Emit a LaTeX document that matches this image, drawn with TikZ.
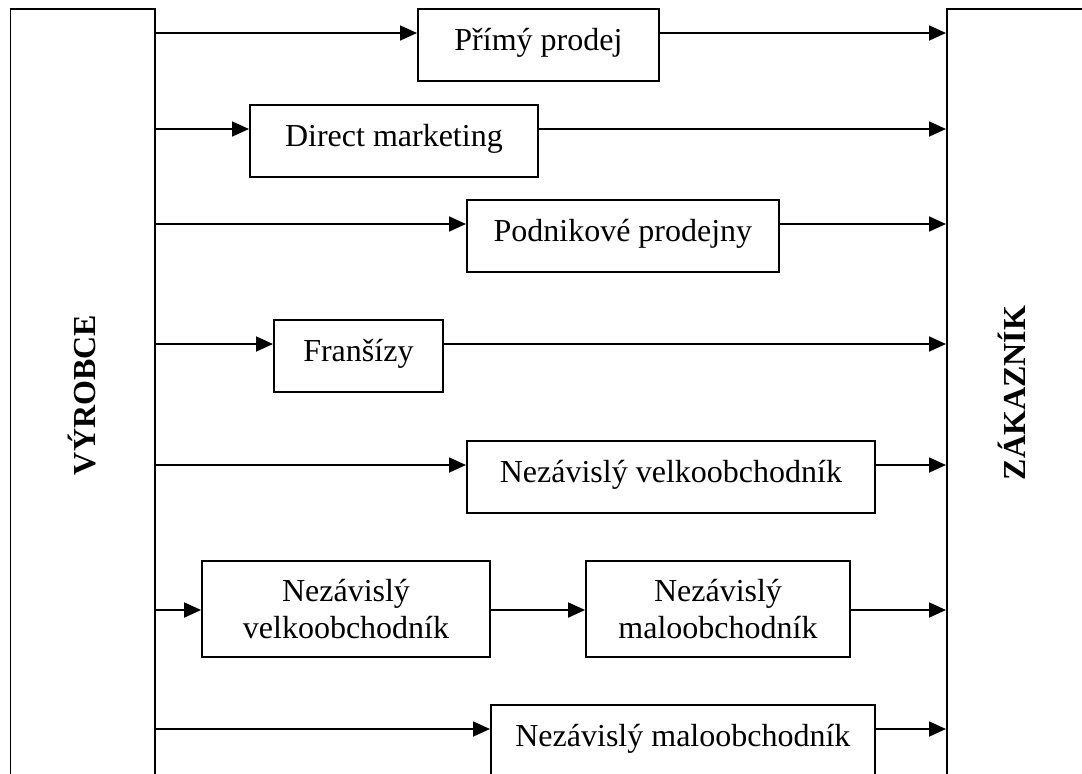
\documentclass[tikz,border=0pt]{standalone}
\usepackage{fontspec}
\setmainfont{Liberation Serif}
\usetikzlibrary{arrows.meta}

\begin{document}
\begin{tikzpicture}[x=1pt,y=-1pt,line width=1.8pt,>={Triangle[length=17pt,width=15pt]},
  chan/.style={draw,anchor=base west,inner xsep=0pt,inner ysep=0pt,
    text height=41pt,text depth=31pt,font=\fontsize{32}{37}\selectfont},
  chantwo/.style={draw,align=center,minimum height=96pt,inner sep=0pt,
    font=\fontsize{32}{37}\selectfont},
  side/.style={draw,anchor=north west,minimum height=800pt,inner sep=0pt},
  sidelbl/.style={rotate=90,font=\fontsize{32}{37}\selectfont\bfseries}]
  \useasboundingbox (0,0) rectangle (1082,774);
  \clip (0,0) rectangle (1082,774);
  % producer and customer
  \node[side,minimum width=144.5pt] (prod) at (9.5,8) {};
  \node[side,minimum width=200pt] (cust) at (946,8) {};
  \node[sidelbl] (prodlbl) at (82,395) {VÝROBCE};
  \node[sidelbl] (custlbl) at (1012,393) {ZÁKAZNÍK};
  % rows
  \coordinate (r1) at (0,33);
  \coordinate (r2) at (0,129);
  \coordinate (r3) at (0,224);
  \coordinate (r4) at (0,344);
  \coordinate (r5) at (0,465);
  \coordinate (r6) at (0,610);
  \coordinate (r7) at (0,729);
  % channels
  \node[chan,minimum width=241pt] (p1) at (417,50) {Přímý prodej};
  \node[chan,minimum width=288pt] (p2) at (249,146) {Direct marketing};
  \node[chan,minimum width=312pt] (p3) at (466,241) {Podnikové prodejny};
  \node[chan,minimum width=169pt] (p4) at (273,361) {Franšízy};
  \node[chan,minimum width=408pt] (p5) at (466,482) {Nezávislý velkoobchodník};
  \node[chantwo,minimum width=288pt] (p6) at (346,609) {Nezávislý\\velkoobchodník};
  \node[chantwo,minimum width=264pt] (p7) at (718,609) {Nezávislý\\maloobchodník};
  \node[chan,minimum width=384pt] (p8) at (490,746) {Nezávislý maloobchodník};
  % arrows
  \draw[->] (prod.east |- r1) -- (p1.west |- r1);
  \draw[->] (p1.east |- r1) -- (cust.west |- r1);
  \draw[->] (prod.east |- r2) -- (p2.west |- r2);
  \draw[->] (p2.east |- r2) -- (cust.west |- r2);
  \draw[->] (prod.east |- r3) -- (p3.west |- r3);
  \draw[->] (p3.east |- r3) -- (cust.west |- r3);
  \draw[->] (prod.east |- r4) -- (p4.west |- r4);
  \draw[->] (p4.east |- r4) -- (cust.west |- r4);
  \draw[->] (prod.east |- r5) -- (p5.west |- r5);
  \draw[->] (p5.east |- r5) -- (cust.west |- r5);
  \draw[->] (prod.east |- r6) -- (p6.west |- r6);
  \draw[->] (p6.east |- r6) -- (p7.west |- r6);
  \draw[->] (p7.east |- r6) -- (cust.west |- r6);
  \draw[->] (prod.east |- r7) -- (p8.west |- r7);
  \draw[->] (p8.east |- r7) -- (cust.west |- r7);
\end{tikzpicture}
\end{document}
